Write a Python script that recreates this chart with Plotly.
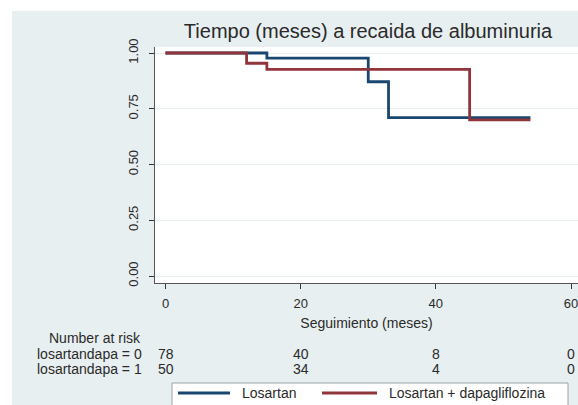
import plotly.graph_objects as go

# Kaplan-Meier step data: time of each step (months) and survival after it
time_losartan = [0, 15, 30, 33, 54]
surv_losartan = [1.0, 0.977, 0.871, 0.71, 0.71]

time_combo = [0, 12, 15, 45, 54]
surv_combo = [1.0, 0.954, 0.927, 0.70, 0.70]

# Number-at-risk table
risk_times = [0, 20, 40, 60]
risk_losartan = [78, 40, 8, 0]
risk_combo = [50, 34, 4, 0]
risk_row_labels = ["losartandapa = 0", "losartandapa = 1"]

x_ticks = [0, 20, 40, 60]
y_ticks = [0, 0.25, 0.5, 0.75, 1.0]
y_tick_text = ["0.00", "0.25", "0.50", "0.75", "1.00"]

series_names = ["Losartan", "Losartan + dapagliflozina"]
BLUE = "#1a476f"
RED = "#90353b"
BG = "#e8eff1"
TEXT = "#2a2a2a"
FONT = "Liberation Sans, Arial, sans-serif"

W, H = 578, 405
L, R, T, B = 155, 0, 47, 122
PW, PH = W - L - R, H - T - B


def px_x(p):
    """pixel column -> paper x"""
    return (p - L) / PW


def px_y(p):
    """pixel row -> paper y"""
    return (H - B - p) / PH


fig = go.Figure()
fig.add_trace(go.Scatter(x=time_losartan, y=surv_losartan, mode="lines",
                         line=dict(color=BLUE, width=2.8, shape="hv"),
                         name=series_names[0], showlegend=False))
fig.add_trace(go.Scatter(x=time_combo, y=surv_combo, mode="lines",
                         line=dict(color=RED, width=2.8, shape="hv"),
                         name=series_names[1], showlegend=False))

annotations = []
# number-at-risk header and row labels
annotations.append(dict(text="Number at risk", x=px_x(143), y=px_y(337.5),
                        xref="paper", yref="paper", xanchor="right", yanchor="middle",
                        showarrow=False, font=dict(size=14, color=TEXT)))
for label, row_y in zip(risk_row_labels, [353.5, 369]):
    annotations.append(dict(text=label, x=px_x(144), y=px_y(row_y),
                            xref="paper", yref="paper", xanchor="right", yanchor="middle",
                            showarrow=False, font=dict(size=14, color=TEXT)))
for counts, row_y in zip([risk_losartan, risk_combo], [353.5, 369]):
    for t, n in zip(risk_times, counts):
        annotations.append(dict(text=str(n), x=t, y=px_y(row_y),
                                xref="x", yref="paper", xanchor="center", yanchor="middle",
                                showarrow=False, font=dict(size=14, color=TEXT)))

# legend entries
legend_items = [(series_names[0], BLUE, 178, 230, 240),
                (series_names[1], RED, 322, 377, 387)]
shapes = [
    # white strips around the graph region
    dict(type="rect", xref="paper", yref="paper", x0=px_x(-5), x1=px_x(12),
         y0=px_y(410), y1=px_y(-5), fillcolor="white", line=dict(width=0), layer="below"),
    dict(type="rect", xref="paper", yref="paper", x0=px_x(-5), x1=px_x(583),
         y0=px_y(11), y1=px_y(-5), fillcolor="white", line=dict(width=0), layer="below"),
    # legend box
    dict(type="rect", xref="paper", yref="paper", x0=px_x(172), x1=px_x(568),
         y0=px_y(420), y1=px_y(383), fillcolor="white",
         line=dict(color="#9aa2a6", width=1)),
]
for name, color, lx0, lx1, tx in legend_items:
    shapes.append(dict(type="line", xref="paper", yref="paper", x0=px_x(lx0), x1=px_x(lx1),
                       y0=px_y(393), y1=px_y(393), line=dict(color=color, width=3)))
    annotations.append(dict(text=name, x=px_x(tx), y=px_y(393), xref="paper", yref="paper",
                            xanchor="left", yanchor="middle", showarrow=False,
                            font=dict(size=14, color=TEXT)))

x_px_per_unit = (571 - 165.5) / 60
x_min = -(165.5 - L) / x_px_per_unit
x_max = x_min + PW / x_px_per_unit
y_px_per_unit = 276 - 53
y_min = -((H - B) - 276) / y_px_per_unit
y_max = 1 + (53 - T) / y_px_per_unit

fig.update_layout(
    width=W, height=H,
    margin=dict(l=L, r=R, t=T, b=B),
    paper_bgcolor=BG, plot_bgcolor="white",
    font=dict(family=FONT, color=TEXT),
    title=dict(text="Tiempo (meses) a recaida de albuminuria",
               x=368 / W, xanchor="center",
               y=1 - 31 / H, yanchor="middle",
               font=dict(size=20, color=TEXT)),
    xaxis=dict(range=[x_min, x_max], tickvals=x_ticks, ticks="outside", ticklen=5,
               tickcolor="#333", showline=True, linecolor="#555", linewidth=1,
               showgrid=False, zeroline=False, tickfont=dict(size=13),
               ticklabelstandoff=3, ticklabeloverflow="allow",
               title=dict(text="Seguimiento (meses)", font=dict(size=14), standoff=8)),
    yaxis=dict(range=[y_min, y_max], tickvals=y_ticks, ticktext=y_tick_text,
               tickangle=-90, ticks="outside", ticklen=5, tickcolor="#333",
               showline=True, linecolor="#555", linewidth=1,
               showgrid=True, gridcolor="#e6eef0", gridwidth=1, zeroline=False,
               tickfont=dict(size=13), ticklabelstandoff=6),
    shapes=shapes,
    annotations=annotations,
    showlegend=False,
)

fig.write_html("out.html")
